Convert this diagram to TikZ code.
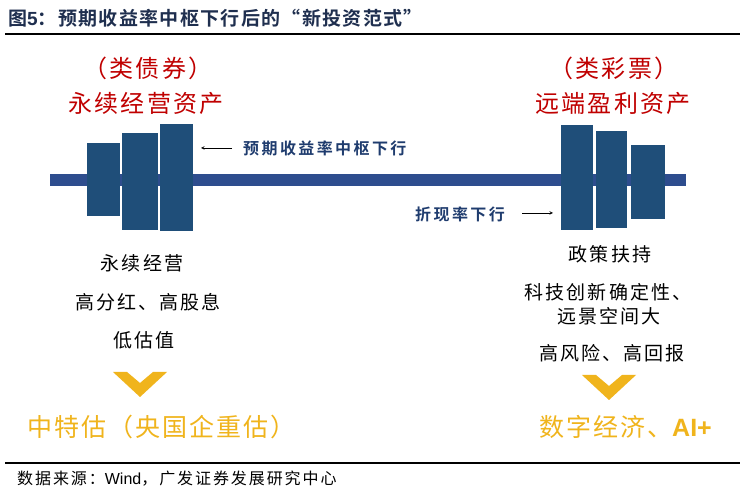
\documentclass[tikz,border=0pt]{standalone}
\usepackage{fontspec}
\setmainfont{Liberation Sans}
\newfontfamily\cjk{Noto Sans CJK SC}
\newfontfamily\cjkred[LetterSpace=10]{Noto Sans CJK SC}
\newfontfamily\cjkblk[LetterSpace=11]{Noto Sans CJK SC}
\newfontfamily\cjkgold[LetterSpace=8]{Noto Sans CJK SC}
\newfontfamily\cjkfoot[LetterSpace=12]{Noto Sans CJK SC}
\newfontfamily\cjkblue[LetterSpace=15]{Noto Sans CJK SC Bold}
\newfontfamily\cjktitle[LetterSpace=7]{Noto Sans CJK SC Bold}
\newfontfamily\arialb{Liberation Sans Bold}
\definecolor{navy}{HTML}{1F3C6E}
\definecolor{titlec}{HTML}{1F2F4F}
\definecolor{barc}{HTML}{2E4D8E}
\definecolor{blockc}{HTML}{1F4E79}
\definecolor{redc}{HTML}{C00000}
\definecolor{goldc}{HTML}{F0B41C}
\tikzset{
  blk/.style={fill=blockc, draw=none},
  redt/.style={text=redc, font=\cjkred\fontsize{24}{28}\selectfont, inner sep=0pt},
  blkt/.style={text=black, font=\cjkblk\fontsize{19}{23}\selectfont, inner sep=0pt},
  bluet/.style={text=navy, font=\cjkblue\fontsize{16}{19}\selectfont, inner sep=0pt},
  goldt/.style={text=goldc, font=\cjkgold\fontsize{25}{29}\selectfont, inner sep=0pt},
  chev/.style={fill=goldc, draw=none},
  rule/.style={line width=1.3pt, black},
  pointer/.style={-stealth, line width=0.6pt, black},
}
\begin{document}
\begin{tikzpicture}[x=1pt,y=-1pt]
\useasboundingbox (0,0) rectangle (740,494);
\fill[white] (0,0) rectangle (740,494);
% title
\node[anchor=west, inner sep=0pt, text=titlec, font=\cjktitle\fontsize{19}{22}\selectfont] (title) at (8,18) {图{\arialb 5}：预期收益率中枢下行后的“新投资范式”};
\coordinate (t1) at (5,34); \coordinate (t2) at (740,34);
\draw[rule] (t1) -- (t2);
% bar
\fill[barc] (50,174) rectangle (686,186);
% left blocks
\fill[blk] (87,143) rectangle (120,216);
\fill[blk] (122,133) rectangle (158,230);
\fill[blk] (160,124) rectangle (193,231);
% right blocks
\fill[blk] (561,125) rectangle (593,230);
\fill[blk] (596,131) rectangle (627,228);
\fill[blk] (631,145) rectangle (665,219);
% red titles
\node[redt] (lr1) at (148,68) {（类债券）};
\node[redt] (lr2) at (146,103) {永续经营资产};
\node[redt] (rr1) at (614,68) {（类彩票）};
\node[redt] (rr2) at (613,103) {远端盈利资产};
% blue labels
\node[bluet, anchor=west] (lab1) at (243,148) {预期收益率中枢下行};
\coordinate (a1s) at (232,148); \coordinate (a1e) at (201,148);
\draw[pointer] (a1s) -- (a1e);
\node[bluet, anchor=west] (lab2) at (415,214) {折现率下行};
\coordinate (a2s) at (522,213); \coordinate (a2e) at (553,213);
\draw[pointer] (a2s) -- (a2e);
% left black text
\node[blkt] (l1) at (142,263) {永续经营};
\node[blkt] (l2) at (148,302) {高分红、高股息};
\node[blkt] (l3) at (144,340) {低估值};
% right black text
\node[blkt] (r1) at (610,254) {政策扶持};
\node[blkt] (r2) at (608,292) {科技创新确定性、};
\node[blkt] (r3) at (609,316) {远景空间大};
\node[blkt] (r4) at (612,353) {高风险、高回报};
% chevrons
\fill[chev] (113,372) -- (127,372) -- (140,383) -- (153,372) -- (167,372) -- (140,397) -- cycle;
\fill[chev] (582,375) -- (596,375) -- (609,386) -- (622,375) -- (636,375) -- (609,400) -- cycle;
% gold texts
\node[goldt, anchor=west] (g1) at (27,427) {中特估（央国企重估）};
\node[goldt, anchor=west] (g2) at (539,427) {数字经济、{\arialb AI+}};
% footer
\coordinate (b1) at (5,463); \coordinate (b2) at (740,463);
\draw[rule] (b1) -- (b2);
\node[anchor=west, inner sep=0pt, font=\cjkfoot\fontsize{16}{19}\selectfont] (src) at (17,479) {数据来源：{\rmfamily Wind}，广发证券发展研究中心};
\end{tikzpicture}
\end{document}
